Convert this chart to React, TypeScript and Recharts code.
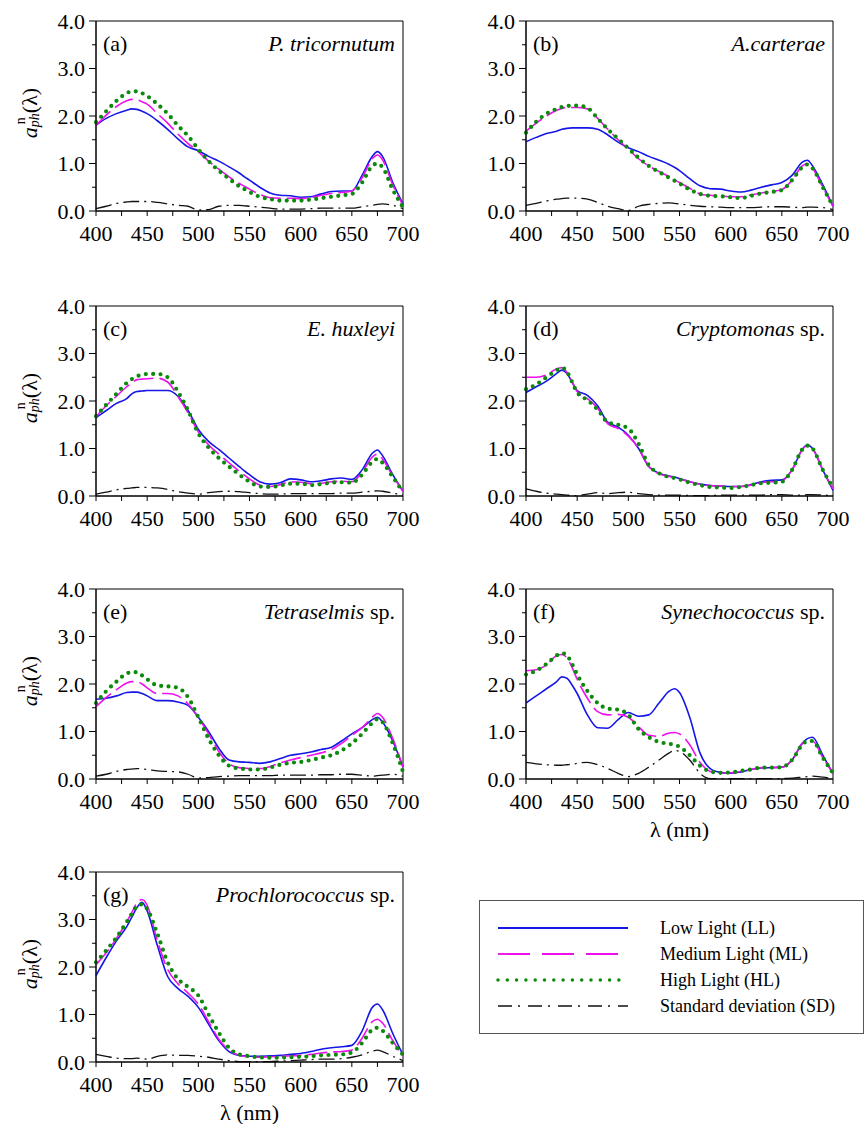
import React from 'react';
import { LineChart, Line, XAxis, YAxis, ReferenceArea } from 'recharts';

const FONT = '"Liberation Serif", "Times New Roman", Times, serif';
const TXT = { fontFamily: FONT };

// wavelength grid (nm)
const WL = [400, 410, 420, 430, 435, 440, 445, 450, 460, 470, 480, 490, 500, 510, 520, 530, 540, 545, 550, 560, 570, 580, 590, 600, 610, 620, 630, 640, 650, 660, 670, 675, 680, 690, 700];

const X_TICKS = [400, 425, 450, 475, 500, 525, 550, 575, 600, 625, 650, 675, 700];
const Y_TICKS = [0, 0.5, 1, 1.5, 2, 2.5, 3, 3.5, 4];

// (a) P. tricornutum
const A_LL = [1.81, 1.95, 2.05, 2.12, 2.15, 2.14, 2.1, 2.05, 1.9, 1.72, 1.52, 1.35, 1.27, 1.15, 1.05, 0.93, 0.8, 0.72, 0.65, 0.5, 0.38, 0.33, 0.32, 0.29, 0.3, 0.36, 0.41, 0.42, 0.42, 0.75, 1.15, 1.25, 1.15, 0.6, 0.15];
const A_ML = [1.8, 2.02, 2.2, 2.32, 2.35, 2.34, 2.3, 2.25, 2.05, 1.85, 1.62, 1.42, 1.25, 1.05, 0.88, 0.72, 0.58, 0.52, 0.46, 0.35, 0.28, 0.27, 0.27, 0.26, 0.28, 0.33, 0.37, 0.39, 0.42, 0.7, 1.1, 1.18, 1.08, 0.55, 0.12];
const A_HL = [1.87, 2.1, 2.32, 2.48, 2.52, 2.52, 2.48, 2.42, 2.25, 2.05, 1.8, 1.58, 1.3, 1.05, 0.85, 0.68, 0.52, 0.46, 0.4, 0.3, 0.25, 0.22, 0.22, 0.22, 0.24, 0.27, 0.3, 0.33, 0.36, 0.6, 0.95, 1.0, 0.92, 0.45, 0.08];
const A_SD = [0.05, 0.1, 0.16, 0.19, 0.2, 0.2, 0.2, 0.2, 0.18, 0.15, 0.12, 0.1, 0.02, 0.03, 0.1, 0.12, 0.12, 0.11, 0.1, 0.08, 0.06, 0.04, 0.04, 0.04, 0.05, 0.06, 0.06, 0.06, 0.06, 0.09, 0.12, 0.14, 0.15, 0.12, 0.05];

// (b) A. carterae
const B_LL = [1.46, 1.55, 1.63, 1.68, 1.72, 1.74, 1.75, 1.75, 1.75, 1.72, 1.6, 1.45, 1.33, 1.25, 1.15, 1.07, 0.98, 0.92, 0.85, 0.68, 0.53, 0.47, 0.46, 0.42, 0.4, 0.44, 0.5, 0.55, 0.6, 0.75, 1.03, 1.07, 0.95, 0.55, 0.1];
const B_ML = [1.68, 1.85, 2.0, 2.12, 2.16, 2.18, 2.18, 2.18, 2.15, 1.95, 1.72, 1.5, 1.3, 1.1, 0.95, 0.83, 0.72, 0.66, 0.6, 0.48, 0.36, 0.33, 0.32, 0.3, 0.3, 0.34, 0.38, 0.41, 0.45, 0.65, 0.95, 1.0, 0.9, 0.5, 0.1];
const B_HL = [1.65, 1.88, 2.05, 2.15, 2.19, 2.21, 2.22, 2.22, 2.17, 1.95, 1.72, 1.52, 1.32, 1.12, 0.95, 0.82, 0.7, 0.64, 0.58, 0.45, 0.36, 0.32, 0.31, 0.29, 0.27, 0.32, 0.37, 0.4, 0.44, 0.65, 0.92, 0.98, 0.9, 0.5, 0.1];
const B_SD = [0.12, 0.16, 0.21, 0.25, 0.26, 0.27, 0.27, 0.27, 0.25, 0.18, 0.1, 0.05, 0.01, 0.1, 0.14, 0.16, 0.17, 0.16, 0.15, 0.12, 0.1, 0.09, 0.08, 0.07, 0.07, 0.07, 0.08, 0.09, 0.09, 0.08, 0.07, 0.08, 0.08, 0.07, 0.03];

// (c) E. huxleyi
const C_LL = [1.65, 1.8, 1.95, 2.05, 2.15, 2.2, 2.21, 2.22, 2.22, 2.22, 2.1, 1.8, 1.4, 1.15, 0.98, 0.8, 0.62, 0.53, 0.45, 0.3, 0.25, 0.28, 0.36, 0.34, 0.3, 0.32, 0.36, 0.38, 0.35, 0.55, 0.9, 0.97, 0.85, 0.45, 0.1];
const C_ML = [1.67, 1.9, 2.1, 2.3, 2.38, 2.45, 2.46, 2.47, 2.48, 2.4, 2.1, 1.75, 1.35, 1.08, 0.88, 0.7, 0.52, 0.44, 0.36, 0.23, 0.2, 0.24, 0.3, 0.29, 0.26, 0.27, 0.3, 0.31, 0.3, 0.5, 0.82, 0.88, 0.78, 0.42, 0.1];
const C_HL = [1.68, 1.92, 2.15, 2.38, 2.46, 2.52, 2.55, 2.57, 2.57, 2.5, 2.2, 1.8, 1.32, 1.02, 0.8, 0.62, 0.45, 0.37, 0.3, 0.2, 0.19, 0.22, 0.26, 0.26, 0.23, 0.25, 0.28, 0.29, 0.28, 0.45, 0.72, 0.78, 0.7, 0.4, 0.08];
const C_SD = [0.04, 0.08, 0.13, 0.16, 0.17, 0.18, 0.18, 0.18, 0.17, 0.14, 0.09, 0.06, 0.04, 0.07, 0.09, 0.1, 0.09, 0.08, 0.07, 0.05, 0.04, 0.04, 0.05, 0.05, 0.05, 0.05, 0.05, 0.06, 0.06, 0.08, 0.1, 0.11, 0.1, 0.06, 0.02];

// (d) Cryptomonas sp.
const D_LL = [2.18, 2.3, 2.42, 2.58, 2.65, 2.58, 2.4, 2.22, 2.12, 1.9, 1.55, 1.45, 1.28, 1.0, 0.62, 0.48, 0.42, 0.4, 0.37, 0.3, 0.25, 0.22, 0.21, 0.2, 0.2, 0.24, 0.3, 0.33, 0.34, 0.55, 0.98, 1.08, 1.0, 0.55, 0.12];
const D_ML = [2.5, 2.5, 2.55, 2.68, 2.7, 2.6, 2.4, 2.2, 2.05, 1.85, 1.52, 1.42, 1.26, 1.0, 0.62, 0.47, 0.41, 0.39, 0.36, 0.3, 0.25, 0.22, 0.21, 0.2, 0.2, 0.23, 0.28, 0.3, 0.32, 0.55, 0.98, 1.07, 1.0, 0.55, 0.15];
const D_HL = [2.25, 2.35, 2.5, 2.65, 2.7, 2.62, 2.4, 2.18, 2.02, 1.82, 1.55, 1.5, 1.42, 1.1, 0.65, 0.48, 0.4, 0.38, 0.35, 0.28, 0.23, 0.19, 0.18, 0.17, 0.19, 0.23, 0.27, 0.28, 0.3, 0.55, 0.98, 1.06, 1.0, 0.55, 0.18];
const D_SD = [0.15, 0.1, 0.06, 0.04, 0.03, 0.02, 0.01, 0.01, 0.04, 0.07, 0.05, 0.07, 0.08, 0.05, 0.03, 0.02, 0.02, 0.02, 0.02, 0.01, 0.01, 0.01, 0.02, 0.02, 0.02, 0.02, 0.02, 0.03, 0.03, 0.02, 0.02, 0.03, 0.03, 0.02, 0.01];

// (e) Tetraselmis sp.
const E_LL = [1.68, 1.7, 1.75, 1.82, 1.83, 1.83, 1.8, 1.75, 1.65, 1.65, 1.62, 1.55, 1.3, 1.0, 0.65, 0.4, 0.36, 0.355, 0.35, 0.33, 0.36, 0.43, 0.5, 0.53, 0.57, 0.62, 0.67, 0.8, 0.95, 1.08, 1.25, 1.3, 1.2, 0.8, 0.25];
const E_ML = [1.52, 1.72, 1.88, 2.02, 2.05, 2.05, 2.0, 1.92, 1.8, 1.8, 1.75, 1.58, 1.3, 0.95, 0.58, 0.32, 0.24, 0.23, 0.22, 0.22, 0.26, 0.34, 0.4, 0.45, 0.5, 0.55, 0.62, 0.75, 0.92, 1.08, 1.3, 1.38, 1.3, 0.85, 0.25];
const E_HL = [1.6, 1.85, 2.05, 2.22, 2.25, 2.25, 2.18, 2.1, 1.97, 1.95, 1.92, 1.72, 1.3, 0.85, 0.5, 0.28, 0.22, 0.21, 0.2, 0.2, 0.24, 0.3, 0.34, 0.36, 0.4, 0.45, 0.5, 0.6, 0.75, 0.95, 1.18, 1.26, 1.2, 0.75, 0.15];
const E_SD = [0.06, 0.1, 0.16, 0.2, 0.21, 0.22, 0.21, 0.2, 0.17, 0.16, 0.15, 0.1, 0.02, 0.03, 0.05, 0.06, 0.07, 0.07, 0.07, 0.07, 0.07, 0.08, 0.08, 0.08, 0.08, 0.09, 0.09, 0.1, 0.1, 0.08, 0.06, 0.07, 0.08, 0.1, 0.06];

// (f) Synechococcus sp.
const F_LL = [1.6, 1.75, 1.9, 2.05, 2.15, 2.12, 1.98, 1.8, 1.35, 1.08, 1.07, 1.25, 1.4, 1.32, 1.35, 1.6, 1.85, 1.9, 1.82, 1.3, 0.55, 0.22, 0.14, 0.12, 0.15, 0.2, 0.23, 0.24, 0.25, 0.4, 0.75, 0.85, 0.88, 0.5, 0.12];
const F_ML = [2.28, 2.3, 2.4, 2.6, 2.62, 2.55, 2.35, 2.1, 1.7, 1.42, 1.35, 1.36, 1.3, 1.1, 0.92, 0.9, 0.97, 0.98, 0.95, 0.72, 0.35, 0.16, 0.12, 0.13, 0.16, 0.2, 0.24, 0.24, 0.25, 0.4, 0.75, 0.8, 0.8, 0.45, 0.12];
const F_HL = [2.2, 2.28, 2.42, 2.6, 2.65, 2.6, 2.42, 2.2, 1.85, 1.6, 1.48, 1.46, 1.35, 1.05, 0.88, 0.78, 0.74, 0.72, 0.68, 0.5, 0.28, 0.16, 0.13, 0.14, 0.17, 0.2, 0.24, 0.24, 0.25, 0.4, 0.72, 0.8, 0.8, 0.45, 0.12];
const F_SD = [0.35, 0.32, 0.3, 0.29, 0.29, 0.3, 0.31, 0.33, 0.35, 0.3, 0.22, 0.12, 0.05, 0.12, 0.25, 0.4, 0.55, 0.6, 0.58, 0.4, 0.12, 0.01, 0.01, 0.01, 0.01, 0.01, 0.01, 0.01, 0.01, 0.02, 0.04, 0.05, 0.06, 0.04, 0.01];

// (g) Prochlorococcus sp.
const G_LL = [1.82, 2.2, 2.55, 2.85, 3.05, 3.25, 3.36, 3.18, 2.45, 1.8, 1.55, 1.38, 1.15, 0.8, 0.45, 0.22, 0.14, 0.13, 0.12, 0.12, 0.13, 0.14, 0.16, 0.18, 0.22, 0.27, 0.3, 0.32, 0.35, 0.65, 1.15, 1.22, 1.1, 0.6, 0.15];
const G_ML = [2.05, 2.3, 2.6, 2.95, 3.15, 3.35, 3.42, 3.3, 2.55, 1.95, 1.65, 1.45, 1.22, 0.85, 0.48, 0.25, 0.14, 0.12, 0.11, 0.1, 0.11, 0.12, 0.13, 0.14, 0.16, 0.19, 0.21, 0.22, 0.25, 0.5, 0.85, 0.9, 0.82, 0.45, 0.12];
const G_HL = [2.1, 2.35, 2.62, 2.95, 3.12, 3.28, 3.32, 3.22, 2.7, 2.1, 1.75, 1.58, 1.4, 1.0, 0.62, 0.3, 0.16, 0.14, 0.12, 0.1, 0.09, 0.09, 0.1, 0.11, 0.12, 0.14, 0.15, 0.16, 0.2, 0.4, 0.68, 0.72, 0.66, 0.4, 0.15];
const G_SD = [0.16, 0.12, 0.08, 0.07, 0.07, 0.08, 0.07, 0.06, 0.12, 0.15, 0.14, 0.14, 0.12, 0.1, 0.06, 0.03, 0.01, 0.01, 0.01, 0.01, 0.01, 0.02, 0.03, 0.04, 0.05, 0.06, 0.06, 0.07, 0.1, 0.15, 0.23, 0.25, 0.22, 0.12, 0.03];

const LEGEND_NAMES = ['Low Light (LL)', 'Medium Light (ML)', 'High Light (HL)', 'Standard deviation (SD)'];

const SERIES = [
  { key: 'll', color: '#1616e8', width: 1.6, dash: undefined, cap: 'butt' },
  { key: 'ml', color: '#ee10ee', width: 1.6, dash: '20 6', cap: 'butt' },
  { key: 'hl', color: '#0b8a0b', width: 4.2, dash: '0 7.4', cap: 'round' },
  { key: 'sd', color: '#111', width: 1.3, dash: '16 5 2 5', cap: 'butt' },
];

const PANELS = [
  { tag: '(a)', name: 'P. tricornutum', sp: false, ll: A_LL, ml: A_ML, hl: A_HL, sd: A_SD, left: 0, top: 1, yLab: true, xLab: false },
  { tag: '(b)', name: 'A.carterae', sp: false, ll: B_LL, ml: B_ML, hl: B_HL, sd: B_SD, left: 430, top: 1, yLab: false, xLab: false },
  { tag: '(c)', name: 'E. huxleyi', sp: false, ll: C_LL, ml: C_ML, hl: C_HL, sd: C_SD, left: 0, top: 286, yLab: true, xLab: false },
  { tag: '(d)', name: 'Cryptomonas', sp: true, ll: D_LL, ml: D_ML, hl: D_HL, sd: D_SD, left: 430, top: 286, yLab: false, xLab: false },
  { tag: '(e)', name: 'Tetraselmis', sp: true, ll: E_LL, ml: E_ML, hl: E_HL, sd: E_SD, left: 0, top: 569, yLab: true, xLab: false },
  { tag: '(f)', name: 'Synechococcus', sp: true, ll: F_LL, ml: F_ML, hl: F_HL, sd: F_SD, left: 430, top: 569, yLab: false, xLab: true },
  { tag: '(g)', name: 'Prochlorococcus', sp: true, ll: G_LL, ml: G_ML, hl: G_HL, sd: G_SD, left: 0, top: 852, yLab: true, xLab: true },
];

const XTick = (props: any) => {
  const { x, y, payload } = props;
  const major = payload.value % 50 === 0;
  return (
    <g>
      <line x1={x} y1={y} x2={x} y2={y + 5} stroke="#000" strokeWidth={1} />
      {major && (
        <text x={x} y={y + 22} textAnchor="middle" dominantBaseline="central" fontSize={22} style={TXT} fill="#000">
          {payload.value}
        </text>
      )}
    </g>
  );
};

const YTick = (props: any) => {
  const { x, y, payload } = props;
  const major = Number.isInteger(payload.value);
  return (
    <g>
      <line x1={x} y1={y} x2={x - (major ? 7 : 4)} y2={y} stroke="#000" strokeWidth={1} />
      {major && (
        <text x={x - 11} y={y} textAnchor="end" dominantBaseline="central" fontSize={22} style={TXT} fill="#000">
          {payload.value.toFixed(1)}
        </text>
      )}
    </g>
  );
};

const YLabel = (props: any) => {
  const vb = props.viewBox;
  const cx = vb.x + 29;
  const cy = vb.y + vb.height / 2 - 3;
  return (
    <text x={cx} y={cy} transform={`rotate(-90, ${cx}, ${cy})`} textAnchor="middle" dominantBaseline="central" fontSize={22} style={TXT} fill="#000">
      <tspan fontStyle="italic">a</tspan>
      <tspan fontSize={14} dx={3} dy={-9}>n</tspan>
      <tspan fontSize={14} fontStyle="italic" dx={-10} dy={14}>ph</tspan>
      <tspan dy={-5}>(λ)</tspan>
    </text>
  );
};

const XLabel = (props: any) => {
  const vb = props.viewBox;
  return (
    <text x={vb.x + vb.width / 2} y={vb.y + 50} textAnchor="middle" dominantBaseline="central" fontSize={22} style={TXT} fill="#000">
      λ (nm)
    </text>
  );
};

const Panel = ({ p }: { p: any }) => {
  const data = WL.map((w, i) => ({ wl: w, ll: p.ll[i], ml: p.ml[i], hl: p.hl[i], sd: p.sd[i] }));
  const titles = (props: any) => {
    const vb = props.viewBox;
    return (
      <g fontSize={22} fill="#000" style={TXT}>
        <text x={vb.x + 7} y={vb.y + 22} dominantBaseline="central" style={TXT}>{p.tag}</text>
        <text x={vb.x + vb.width - 8} y={vb.y + 22} dominantBaseline="central" textAnchor="end" style={TXT}>
          <tspan fontStyle="italic">{p.name}</tspan>
          {p.sp && <tspan> sp.</tspan>}
        </text>
      </g>
    );
  };
  return (
    <div style={{ position: 'absolute', left: p.left, top: p.top }}>
      <LineChart width={432} height={272} data={data} margin={{ top: 20, right: 29, left: 0, bottom: 0 }} style={TXT}>
        <XAxis
          dataKey="wl"
          type="number"
          domain={[400, 700]}
          ticks={X_TICKS}
          interval={0}
          tickSize={0}
          tickMargin={0}
          tickLine={false}
          tick={<XTick />}
          axisLine={{ stroke: '#000' }}
          height={62}
          label={p.xLab ? { content: (lp: any) => <XLabel {...lp} /> } : undefined}
        />
        <YAxis
          type="number"
          domain={[0, 4]}
          ticks={Y_TICKS}
          interval={0}
          tickSize={0}
          tickMargin={0}
          tickLine={false}
          tick={<YTick />}
          axisLine={{ stroke: '#000' }}
          width={96}
          label={p.yLab ? { content: (lp: any) => <YLabel {...lp} /> } : undefined}
        />
        <ReferenceArea x1={400} x2={700} y1={0} y2={4} fill="none" stroke="#000" strokeWidth={1} label={{ content: titles }} />
        {SERIES.map((s) => (
          <Line
            key={s.key}
            type="monotone"
            dataKey={s.key}
            stroke={s.color}
            strokeWidth={s.width}
            strokeDasharray={s.dash}
            strokeLinecap={s.cap as any}
            dot={false}
            activeDot={false}
            isAnimationActive={false}
          />
        ))}
      </LineChart>
    </div>
  );
};

const Legend = () => (
  <div style={{ position: 'absolute', left: 479, top: 900, width: 385, height: 134, border: '1px solid #555', boxSizing: 'border-box', background: '#fff' }}>
    <svg width={383} height={132}>
      {SERIES.map((s, i) => {
        const y = 27 + i * 26;
        return (
          <g key={s.key}>
            <line
              x1={18}
              x2={148}
              y1={y}
              y2={y}
              stroke={s.color}
              strokeWidth={s.key === 'hl' ? 3.5 : s.width + 0.3}
              strokeDasharray={s.key === 'ml' ? '32 12' : s.key === 'hl' ? '0 9.3' : s.key === 'sd' ? '14 6 2 8' : undefined}
              strokeLinecap={s.cap as any}
            />
            <text x={180} y={y} dominantBaseline="central" fontSize={18} style={TXT} fill="#000">
              {LEGEND_NAMES[i]}
            </text>
          </g>
        );
      })}
    </svg>
  </div>
);

export default function App() {
  return (
    <div style={{ position: 'absolute', left: 0, top: 0, width: 864, height: 1128, background: '#fff', overflow: 'hidden', fontFamily: FONT }}>
      {PANELS.map((p) => (
        <Panel key={p.tag} p={p} />
      ))}
      <Legend />
    </div>
  );
}
